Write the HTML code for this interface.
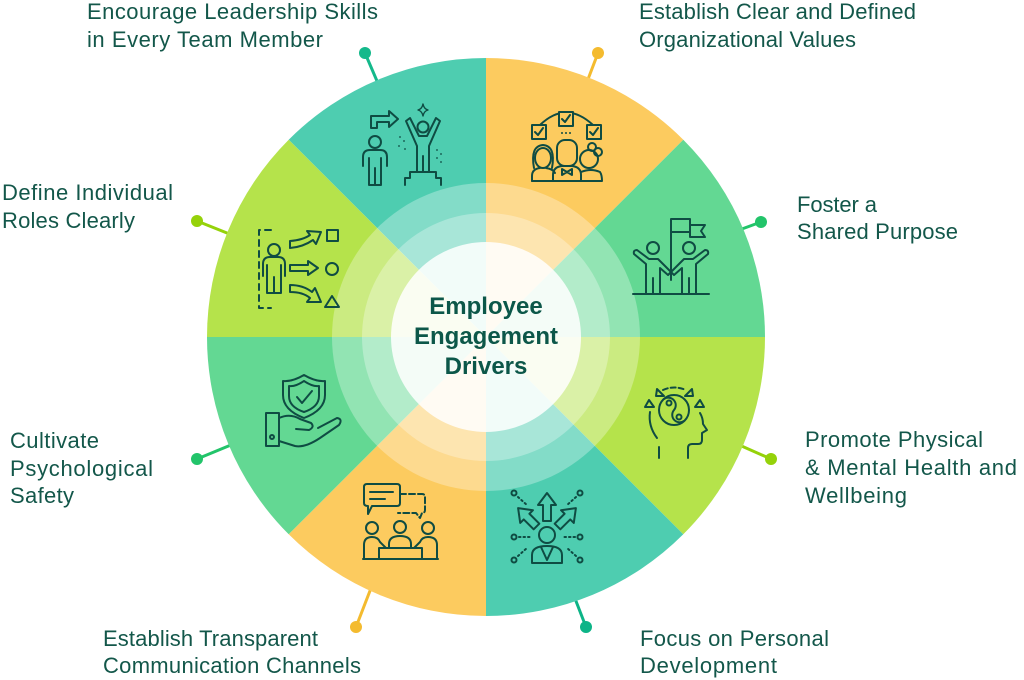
<!DOCTYPE html>
<html><head><meta charset="utf-8"><style>
html,body{margin:0;padding:0;background:#fff;width:1024px;height:680px;overflow:hidden}
svg{display:block}
.t{font-family:"Liberation Sans",Arial,sans-serif;font-size:22px;fill:#13574a}
.c{font-family:"Liberation Sans",Arial,sans-serif;font-size:24px;font-weight:bold;fill:#0c5749}
.i{stroke:#0f4c43;stroke-width:2;fill:none;stroke-linejoin:round;stroke-linecap:round}
</style></head><body>
<svg width="1024" height="680" viewBox="0 0 1024 680" xmlns="http://www.w3.org/2000/svg">
<!-- connectors -->
<g stroke-width="3" stroke-linecap="round">
<line x1="365" y1="53" x2="383" y2="95" stroke="#14b98b"/>
<line x1="598" y1="53" x2="582" y2="95" stroke="#f4bb2f"/>
<line x1="761" y1="222" x2="720" y2="237" stroke="#22c46a"/>
<line x1="771" y1="459" x2="728" y2="440" stroke="#95d20a"/>
<line x1="586" y1="627" x2="569" y2="583" stroke="#0db487"/>
<line x1="356" y1="627" x2="373" y2="583" stroke="#f4bb2f"/>
<line x1="197" y1="459" x2="243" y2="440" stroke="#22c46a"/>
<line x1="197" y1="221" x2="242" y2="239" stroke="#95d20a"/>
</g>
<circle cx="365" cy="53" r="6" fill="#14b98b"/>
<circle cx="598" cy="53" r="6" fill="#f4bb2f"/>
<circle cx="761" cy="222" r="6" fill="#22c46a"/>
<circle cx="771" cy="459" r="6" fill="#95d20a"/>
<circle cx="586" cy="627" r="6" fill="#0db487"/>
<circle cx="356" cy="627" r="6" fill="#f4bb2f"/>
<circle cx="197" cy="459" r="6" fill="#22c46a"/>
<circle cx="197" cy="221" r="6" fill="#95d20a"/>

<!-- wedges -->
<path d="M486,337 L288.7,139.7 A279,279 0 0 1 486,58 Z" fill="#4ecdb0"/>
<path d="M486,337 L486,58 A279,279 0 0 1 683.3,139.7 Z" fill="#fccb5f"/>
<path d="M486,337 L683.3,139.7 A279,279 0 0 1 765,337 Z" fill="#63d893"/>
<path d="M486,337 L765,337 A279,279 0 0 1 683.3,534.3 Z" fill="#b5e34b"/>
<path d="M486,337 L683.3,534.3 A279,279 0 0 1 486,616 Z" fill="#4ecdb0"/>
<path d="M486,337 L486,616 A279,279 0 0 1 288.7,534.3 Z" fill="#fccb5f"/>
<path d="M486,337 L288.7,534.3 A279,279 0 0 1 207,337 Z" fill="#63d893"/>
<path d="M486,337 L207,337 A279,279 0 0 1 288.7,139.7 Z" fill="#b5e34b"/>

<!-- rings -->
<circle cx="486" cy="337" r="154" fill="#fff" fill-opacity="0.3"/>
<circle cx="486" cy="337" r="124" fill="#fff" fill-opacity="0.3"/>
<circle cx="486" cy="337" r="95" fill="#fff" fill-opacity="0.85"/>

<!-- center text -->
<text class="c" x="486" y="314" text-anchor="middle">Employee</text>
<text class="c" x="486" y="344" text-anchor="middle">Engagement</text>
<text class="c" x="486" y="374" text-anchor="middle">Drivers</text>

<!-- Icon 1: leadership -->
<g class="i">
<circle cx="375" cy="142" r="6"/>
<path d="M363,166 V157 Q363,150 370,150 H380 Q387,150 387,157 V166 M369,158 V185 H381 V158 M375,168 V185"/>
<path d="M371,128 V116 H389 V111 L398,119 L389,127 V122 H377 V128 Z"/>
<circle cx="423" cy="127" r="5.5"/>
<path d="M417,172 V146 L406,121 L410,118 L419,136 H427 L436,118 L440,121 L429,146 V172 M423,156 V172"/>
<path d="M405,185 V178 H410 V172 H436 V178 H441 V185"/>
<path d="M423,104 Q424,109 428,110 Q424,111 423,116 Q422,111 418,110 Q422,109 423,104 Z" stroke-width="1.4"/>
</g>
<g fill="#0f4c43">
<circle cx="400" cy="137" r="0.9"/><circle cx="404" cy="141" r="0.9"/><circle cx="399" cy="146" r="0.9"/><circle cx="405" cy="149" r="0.9"/>
<circle cx="437" cy="150" r="0.9"/><circle cx="441" cy="154" r="0.9"/><circle cx="437" cy="158" r="0.9"/><circle cx="441" cy="162" r="0.9"/>
</g>

<!-- Icon 2: values -->
<g class="i">
<path d="M540,125 Q566,100 593,125"/>
<rect x="532" y="125" width="14" height="14" fill="#fccb5f"/>
<rect x="559" y="112" width="14" height="14" fill="#fccb5f"/>
<rect x="587" y="125" width="14" height="14" fill="#fccb5f"/>
<path d="M535,132 L538,135 L543,128 M562,119 L565,122 L570,115 M590,132 L593,135 L598,128"/>
<ellipse cx="543" cy="158" rx="8" ry="10"/>
<path d="M534,168 Q530,146 543,145 Q556,146 552,168"/>
<path d="M532,181 V176 Q532,169 540,168 M546,168 Q553,169 555,173"/>
<rect x="557" y="140" width="20" height="26" rx="8"/>
<path d="M553,181 V175 Q553,167 562,166 H572 Q581,167 581,175 V181"/>
<path d="M562,169 L567,172 L572,169 V175 L567,172 L562,175 Z"/>
<circle cx="589" cy="159" r="9"/>
<circle cx="592" cy="147" r="4"/><circle cx="598" cy="152" r="4"/>
<path d="M581,172 Q591,168 600,172 Q602,175 602,181 M532,181 H602"/>
</g>
<g fill="#0f4c43"><circle cx="562" cy="133" r="1"/><circle cx="566" cy="133" r="1"/><circle cx="570" cy="133" r="1"/></g>

<!-- Icon 3: foster -->
<g class="i">
<path d="M671,280 V219 H690 V232 H671 M690,225 H705 L701,231 L705,237 H690 V232"/>
<circle cx="653" cy="248" r="6"/>
<circle cx="689" cy="248" r="6"/>
<path d="M646,294 V264 L634,254 Q633,250 637,250 L649,259 H658 L671,272 L668,275 L660,268 V294 M653,278 V294"/>
<path d="M696,294 V264 L708,254 Q709,250 705,250 L693,259 H684 L671,272 L674,275 L682,268 V294 M689,278 V294"/>
<path d="M633,294 H709"/>
</g>

<!-- Icon 4: promote -->
<g class="i">
<circle cx="674" cy="410" r="15"/>
<path d="M664,399 A7.5,7.5 0 0 1 674,410 A7.5,7.5 0 0 0 684,421"/>
<circle cx="669" cy="403" r="2.5"/><circle cx="679" cy="417" r="2.5"/>
<path d="M659,458 V447 M650,412 Q648,426 657,438 M688,458 V448 Q688,444 692,444 H698 Q702,444 702,440 V433 L707,430 L703,424 Q703,418 700,413"/>
<path d="M663,390 Q674,385 686,390" stroke-dasharray="5 3"/>
<path d="M657,389 L664,396 L656,396 Z M692,389 L685,396 L693,396 Z M645,407 L654,407 L649,400 Z M704,407 L695,407 L700,400 Z"/>
</g>

<!-- Icon 5: focus -->
<g class="i">
<circle cx="547" cy="535" r="8"/>
<path d="M532,563 V555 Q532,546 547,546 Q562,546 562,555 V563 Z M541,547 L547,560 L553,547"/>
<path d="M547,493 L556,505 H551 V521 H543 V505 H538 Z"/>
<g transform="translate(528,518) rotate(-45)"><path d="M0,-14 L9,-2 H4 V12 H-4 V-2 H-9 Z"/></g>
<g transform="translate(566,518) rotate(45)"><path d="M0,-14 L9,-2 H4 V12 H-4 V-2 H-9 Z"/></g>
<circle cx="514" cy="493" r="2.5"/><circle cx="580" cy="493" r="2.5"/>
<circle cx="514" cy="537" r="2.5"/><circle cx="580" cy="537" r="2.5"/>
<circle cx="514" cy="560" r="2.5"/><circle cx="580" cy="560" r="2.5"/>
<path d="M518,497 L528,506 M576,497 L566,506 M519,537 H530 M575,537 H564 M518,556 L527,548 M576,556 L567,548" stroke-dasharray="1.5 3"/>
</g>

<!-- Icon 6: transparent -->
<g class="i">
<path d="M367,484 H397 Q400,484 400,487 V503 Q400,506 397,506 H372 L368,514 V506 Q364,506 364,503 V487 Q364,484 367,484 Z"/>
<path d="M370,492 H393 M370,499 H385"/>
<path d="M400,494 H422 Q425,494 425,497 V510 Q425,513 422,513 L420,518 L416,513 H398" stroke-dasharray="6 3"/>
<circle cx="372" cy="528" r="6"/><circle cx="400" cy="527" r="6"/><circle cx="428" cy="528" r="6"/>
<path d="M364,559 V545 Q364,537 372,537 Q378,537 380,542 L386,548"/>
<path d="M437,559 V545 Q437,537 428,537 Q422,537 420,542 L414,548"/>
<path d="M389,548 V544 Q389,536 400,536 Q411,536 411,544 V548"/>
<rect x="379" y="548" width="43" height="11"/>
<path d="M363,559 H438"/>
</g>

<!-- Icon 7: cultivate -->
<g class="i">
<path d="M304,375 Q292,382 283,381 V395 Q283,410 304,418 Q325,410 325,395 V381 Q316,382 304,375 Z"/>
<path d="M304,381 Q295,387 289,386 V396 Q289,407 304,412 Q319,407 319,396 V386 Q313,387 304,381 Z"/>
<path d="M297,397 L302,403 L312,391"/>
<rect x="266" y="413" width="13" height="33"/>
<circle cx="272" cy="437" r="2"/>
<path d="M279,418 Q290,413 300,419 L311,423 Q315,427 309,430 L296,429"/>
<path d="M279,441 L295,446 Q305,448 320,438 L339,425 Q343,419 337,418 L318,428"/>
</g>

<!-- Icon 8: define -->
<g class="i">
<path d="M271,230 H259 V308 H271" stroke-dasharray="6 5"/>
<circle cx="274" cy="250" r="6"/>
<path d="M263,276 V264 Q263,257 270,257 H278 Q285,257 285,264 V276 M267,265 V293 H281 V265 M274,277 V293"/>
<path d="M290,265 H308 V261 L318,268 L308,275 V271 H290 Z"/>
<path d="M290,241 Q303,240 310,235 L307,231 L321,232 L316,244 L313,240 Q303,247 290,248 Z"/>
<path d="M290,285 Q303,285 312,292 L315,288 L321,302 L307,302 L310,298 Q303,292 290,292 Z"/>
<rect x="327" y="230" width="11" height="11"/>
<circle cx="332" cy="269" r="6"/>
<path d="M325,307 H339 L332,296 Z"/>
</g>

<!-- labels -->
<text class="t" x="87" y="19" textLength="291" lengthAdjust="spacing">Encourage Leadership Skills</text>
<text class="t" x="87" y="47" textLength="236" lengthAdjust="spacing">in Every Team Member</text>
<text class="t" x="639" y="19" textLength="277" lengthAdjust="spacing">Establish Clear and Defined</text>
<text class="t" x="639" y="47" textLength="217" lengthAdjust="spacing">Organizational Values</text>
<text class="t" x="797" y="212" textLength="80" lengthAdjust="spacing">Foster a</text>
<text class="t" x="797" y="239" textLength="161" lengthAdjust="spacing">Shared Purpose</text>
<text class="t" x="805" y="447" textLength="178" lengthAdjust="spacing">Promote Physical</text>
<text class="t" x="805" y="475" textLength="212" lengthAdjust="spacing">&amp; Mental Health and</text>
<text class="t" x="805" y="503" textLength="102" lengthAdjust="spacing">Wellbeing</text>
<text class="t" x="640" y="646" textLength="189" lengthAdjust="spacing">Focus on Personal</text>
<text class="t" x="640" y="673" textLength="137" lengthAdjust="spacing">Development</text>
<text class="t" x="103" y="646" textLength="215" lengthAdjust="spacing">Establish Transparent</text>
<text class="t" x="103" y="673" textLength="258" lengthAdjust="spacing">Communication Channels</text>
<text class="t" x="2" y="200" textLength="171" lengthAdjust="spacing">Define Individual</text>
<text class="t" x="2" y="228" textLength="133" lengthAdjust="spacing">Roles Clearly</text>
<text class="t" x="10" y="448" textLength="89" lengthAdjust="spacing">Cultivate</text>
<text class="t" x="10" y="476" textLength="143" lengthAdjust="spacing">Psychological</text>
<text class="t" x="10" y="503" textLength="64" lengthAdjust="spacing">Safety</text>
</svg>
</body></html>
